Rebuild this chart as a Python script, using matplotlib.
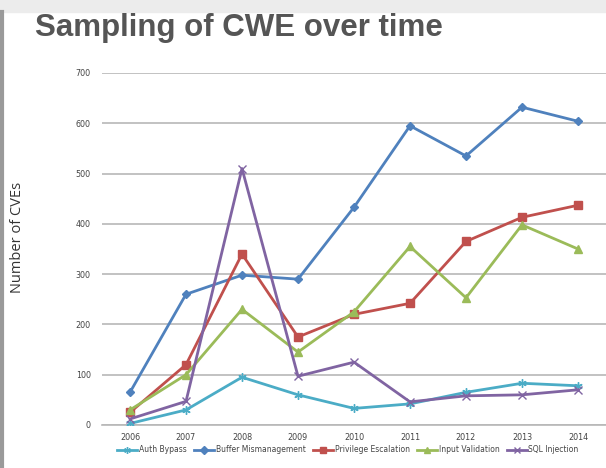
import matplotlib
matplotlib.use("Agg")
import matplotlib.pyplot as plt
from matplotlib.lines import Line2D

years = ["2006", "2007", "2008", "2009", "2010", "2011", "2012", "2013", "2014"]
auth_bypass = [3, 30, 95, 60, 33, 42, 65, 83, 78]
buffer_mismanagement = [65, 260, 298, 290, 433, 595, 535, 632, 604]
privilege_escalation = [25, 120, 340, 175, 220, 242, 365, 413, 437]
input_validation = [30, 100, 230, 145, 225, 355, 253, 398, 350]
sql_injection = [12, 47, 510, 97, 125, 46, 58, 60, 70]

series = [
    ("Auth Bypass", auth_bypass, "#4BACC6", (6, 2, 0), 6),
    ("Buffer Mismanagement", buffer_mismanagement, "#4F81BD", "D", 4.5),
    ("Privilege Escalation", privilege_escalation, "#C0504D", "s", 5.5),
    ("Input Validation", input_validation, "#9BBB59", "^", 6),
    ("SQL Injection", sql_injection, "#8064A2", "x", 5.5),
]

fig = plt.figure(figsize=(6.06, 4.68), dpi=100)
fig.patch.set_facecolor("white")

# slide frame: light band on top and a thin gray edge on the left
fig.add_artist(plt.Rectangle((0, 0.975), 1, 0.025, transform=fig.transFigure,
                             color="#ececec", zorder=0))
fig.add_artist(Line2D([0.004, 0.004], [0, 0.975], transform=fig.transFigure,
                      color="#9a9a9a", lw=3))

fig.text(0.058, 1 - 28 / 468, "Sampling of CWE over time", fontsize=22.5,
         fontweight="bold", color="#555555", family="Liberation Sans",
         va="center", ha="left")

ax = fig.add_axes([102 / 606, 1 - 425 / 468, 504 / 606, (425 - 73) / 468])
x = list(range(len(years)))
for name, vals, color, marker, ms in series:
    ax.plot(x, vals, color=color, lw=2.0, marker=marker, markersize=ms,
            markeredgecolor=color, markerfacecolor=color, markeredgewidth=1.0,
            label=name, zorder=3)

ax.set_xlim(-0.5, len(years) - 0.5)
ax.set_ylim(0, 700)
ax.set_yticks(range(0, 701, 100))
ax.set_xticks(x)
ax.set_xticklabels(years)
ax.yaxis.grid(True, color="#b8b8b8", lw=1.2)
ax.set_axisbelow(True)
for side in ("top", "right", "left"):
    ax.spines[side].set_visible(False)
ax.spines["bottom"].set_color("#b8b8b8")
ax.spines["bottom"].set_linewidth(1.2)
ax.tick_params(axis="both", length=0, labelsize=5.8, labelcolor="#444444")
ax.tick_params(axis="y", pad=8)
ax.tick_params(axis="x", pad=6)

fig.text(18 / 606, 1 - 237 / 468, "Number of CVEs", rotation=90, fontsize=10.5,
         color="#333333", family="Open Sans", ha="center", va="center")

leg = ax.legend(loc="center", bbox_to_anchor=(0.5 - 6 / 504, -25 / 352), ncol=5,
                frameon=False, fontsize=5.5, handlelength=2.6, handletextpad=0.2,
                columnspacing=1.0, labelcolor="#444444", markerscale=0.8)

fig.savefig("out.png", dpi=100, facecolor="white")
